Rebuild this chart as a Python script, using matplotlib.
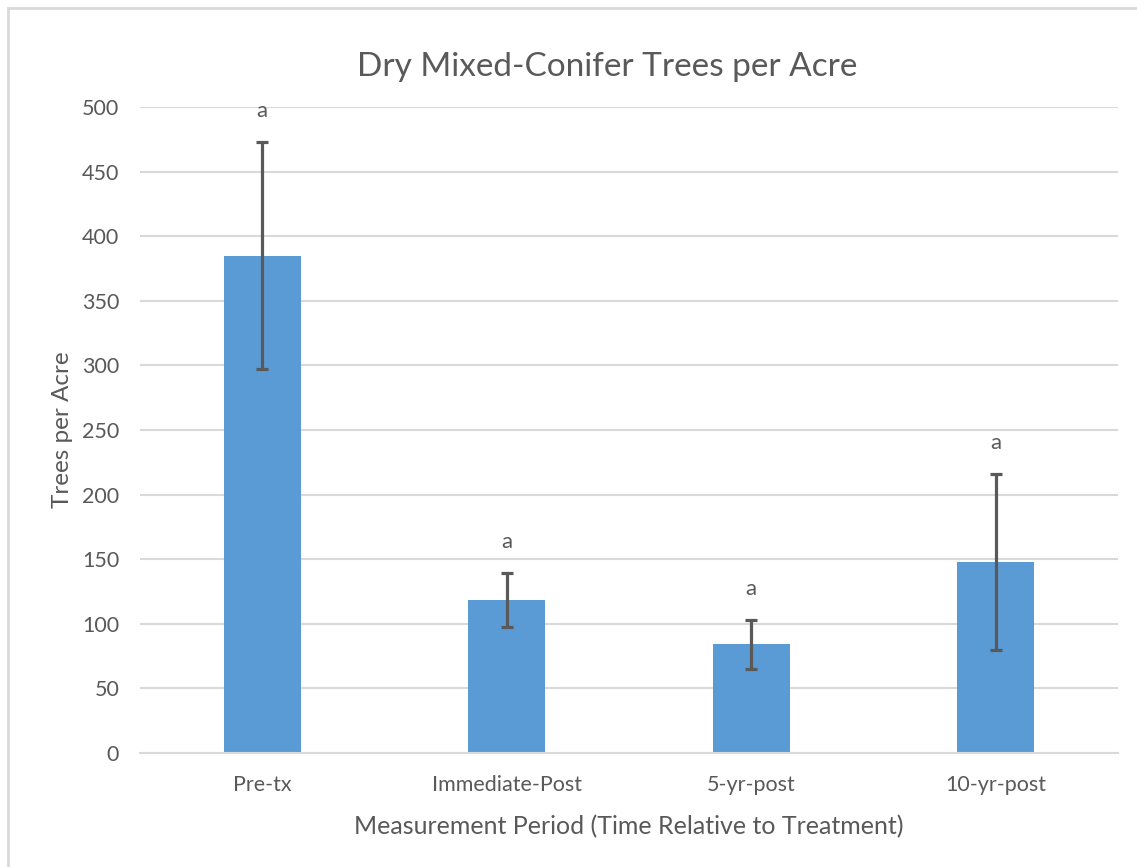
import matplotlib.pyplot as plt
from matplotlib.patches import Rectangle

periods = ["Pre-tx", "Immediate-Post", "5-yr-post", "10-yr-post"]
trees_per_acre = [385, 118.5, 84, 148]
errors = [88, 21, 19, 68]
letters = ["a", "a", "a", "a"]

plt.rcParams["font.family"] = ["Lato", "DejaVu Sans"]
grey = "#595959"

fig = plt.figure(figsize=(11.37, 8.67), dpi=100)
ax = fig.add_axes([140 / 1137, 1 - 753 / 867, 978 / 1137, 646 / 867])

# outer chart border (cut off at right/bottom like the screenshot)
fig.patches.append(Rectangle((8 / 1137, -0.05), 1.2, 1 - 8 / 867 + 0.05,
                             transform=fig.transFigure, fill=False,
                             edgecolor="#d9d9d9", linewidth=2))

x = range(len(periods))
ax.bar(x, trees_per_acre, width=0.315, color="#5b9bd5", zorder=2)
ax.errorbar(x, trees_per_acre, yerr=errors, fmt="none", ecolor=grey,
            elinewidth=2.3, capsize=4.5, capthick=2.3, zorder=3)
for xi, v, e, lab in zip(x, trees_per_acre, errors, letters):
    ax.annotate(lab, (xi, v + e), xytext=(0, 22), textcoords="offset points",
                ha="center", va="center", fontsize=16, color=grey)

ax.set_xlim(-0.5, len(periods) - 0.5)
ax.set_ylim(0, 500)
ax.set_yticks(range(0, 501, 50))
ax.set_xticks(list(x))
ax.set_xticklabels(periods)
ax.yaxis.grid(True, color="#d9d9d9", linewidth=1.5, zorder=0)
ax.set_axisbelow(True)
for s in ["top", "right", "left"]:
    ax.spines[s].set_visible(False)
ax.spines["bottom"].set_color("#d9d9d9")
ax.spines["bottom"].set_linewidth(1.5)
ax.tick_params(axis="both", length=0, colors=grey, labelsize=15.5)
ax.tick_params(axis="y", pad=15)
ax.tick_params(axis="x", pad=16)

ax.set_title("Dry Mixed-Conifer Trees per Acre", fontsize=24, color=grey,
             pad=22, x=0.4775)
ax.set_xlabel("Measurement Period (Time Relative to Treatment)", fontsize=18,
              color=grey, labelpad=14)
ax.set_ylabel("Trees per Acre", fontsize=17.5, color=grey, labelpad=6)

fig.savefig("out.png", dpi=100, facecolor="white")
